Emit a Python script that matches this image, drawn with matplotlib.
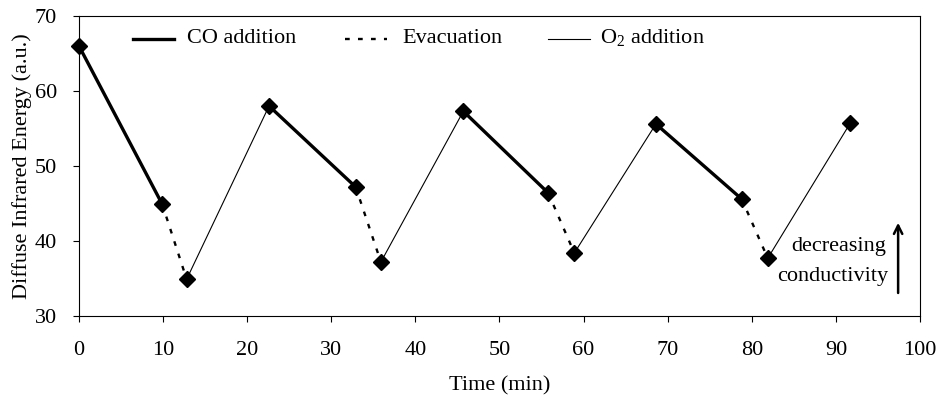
import matplotlib
matplotlib.use("Agg")
import matplotlib.pyplot as plt

plt.rcParams['font.family'] = ['Liberation Serif', 'DejaVu Serif']
plt.rcParams['mathtext.fontset'] = 'custom'
plt.rcParams['mathtext.rm'] = 'Liberation Serif'

# measured points (time in min, energy a.u.)
time = [0, 9.9, 12.8, 22.6, 32.9, 35.9, 45.7, 55.8, 58.9, 68.6, 78.8, 81.9, 91.7]
energy = [66.0, 44.9, 34.9, 58.0, 47.2, 37.2, 57.3, 46.4, 38.4, 55.6, 45.6, 37.7, 55.7]

# segment type for each step i -> i+1
steps = ['co', 'evac', 'o2', 'co', 'evac', 'o2', 'co', 'evac', 'o2', 'co', 'evac', 'o2']

styles = {
    'co': dict(color='black', lw=2.4, ls='-'),
    'evac': dict(color='black', lw=1.7, ls=(0, (2, 3.5))),
    'o2': dict(color='black', lw=0.8, ls='-'),
}

fs = 16

fig = plt.figure(figsize=(9.46, 4.0), dpi=100)
ax = fig.add_axes([0.0835, 0.21, 0.889, 0.75])

for i, kind in enumerate(steps):
    ax.plot(time[i:i + 2], energy[i:i + 2], clip_on=False, **styles[kind])

ax.plot(time, energy, ls='none', marker='D', ms=8, color='black', clip_on=False, zorder=5)

ax.set_xlim(0, 100)
ax.set_ylim(30, 70)
ax.set_xticks(range(0, 101, 10))
ax.set_yticks(range(30, 71, 10))
ax.tick_params(labelsize=fs, length=4, width=0.8, direction='out')
ax.tick_params(axis='x', pad=14)
ax.tick_params(axis='y', pad=12)
ax.set_xlabel('Time (min)', fontsize=fs, labelpad=12)
ax.set_ylabel('Diffuse Infrared Energy (a.u.)', fontsize=fs, labelpad=2)
for s in ax.spines.values():
    s.set_linewidth(0.8)

# legend drawn by hand
leg_y = 67.0
ax.plot([6.4, 11.3], [leg_y, leg_y], **styles['co'])
ax.text(12.8, leg_y, 'CO addition', fontsize=fs, va='center')
ax.plot([31.6, 36.6], [leg_y, leg_y], **styles['evac'])
ax.text(38.5, leg_y, 'Evacuation', fontsize=fs, va='center')
ax.plot([55.8, 60.8], [leg_y, leg_y], **styles['o2'])
ax.text(62.0, leg_y, 'O$_2$ addition', fontsize=fs, va='center')

ax.text(96.0, 39.3, 'decreasing', fontsize=fs, ha='right', va='center')
ax.text(96.2, 35.3, 'conductivity', fontsize=fs, ha='right', va='center')
ax.annotate('', xy=(97.4, 42.8), xytext=(97.4, 32.7),
            arrowprops=dict(arrowstyle='->', lw=1.8, color='black', mutation_scale=15))

fig.savefig('out.png', dpi=100)
